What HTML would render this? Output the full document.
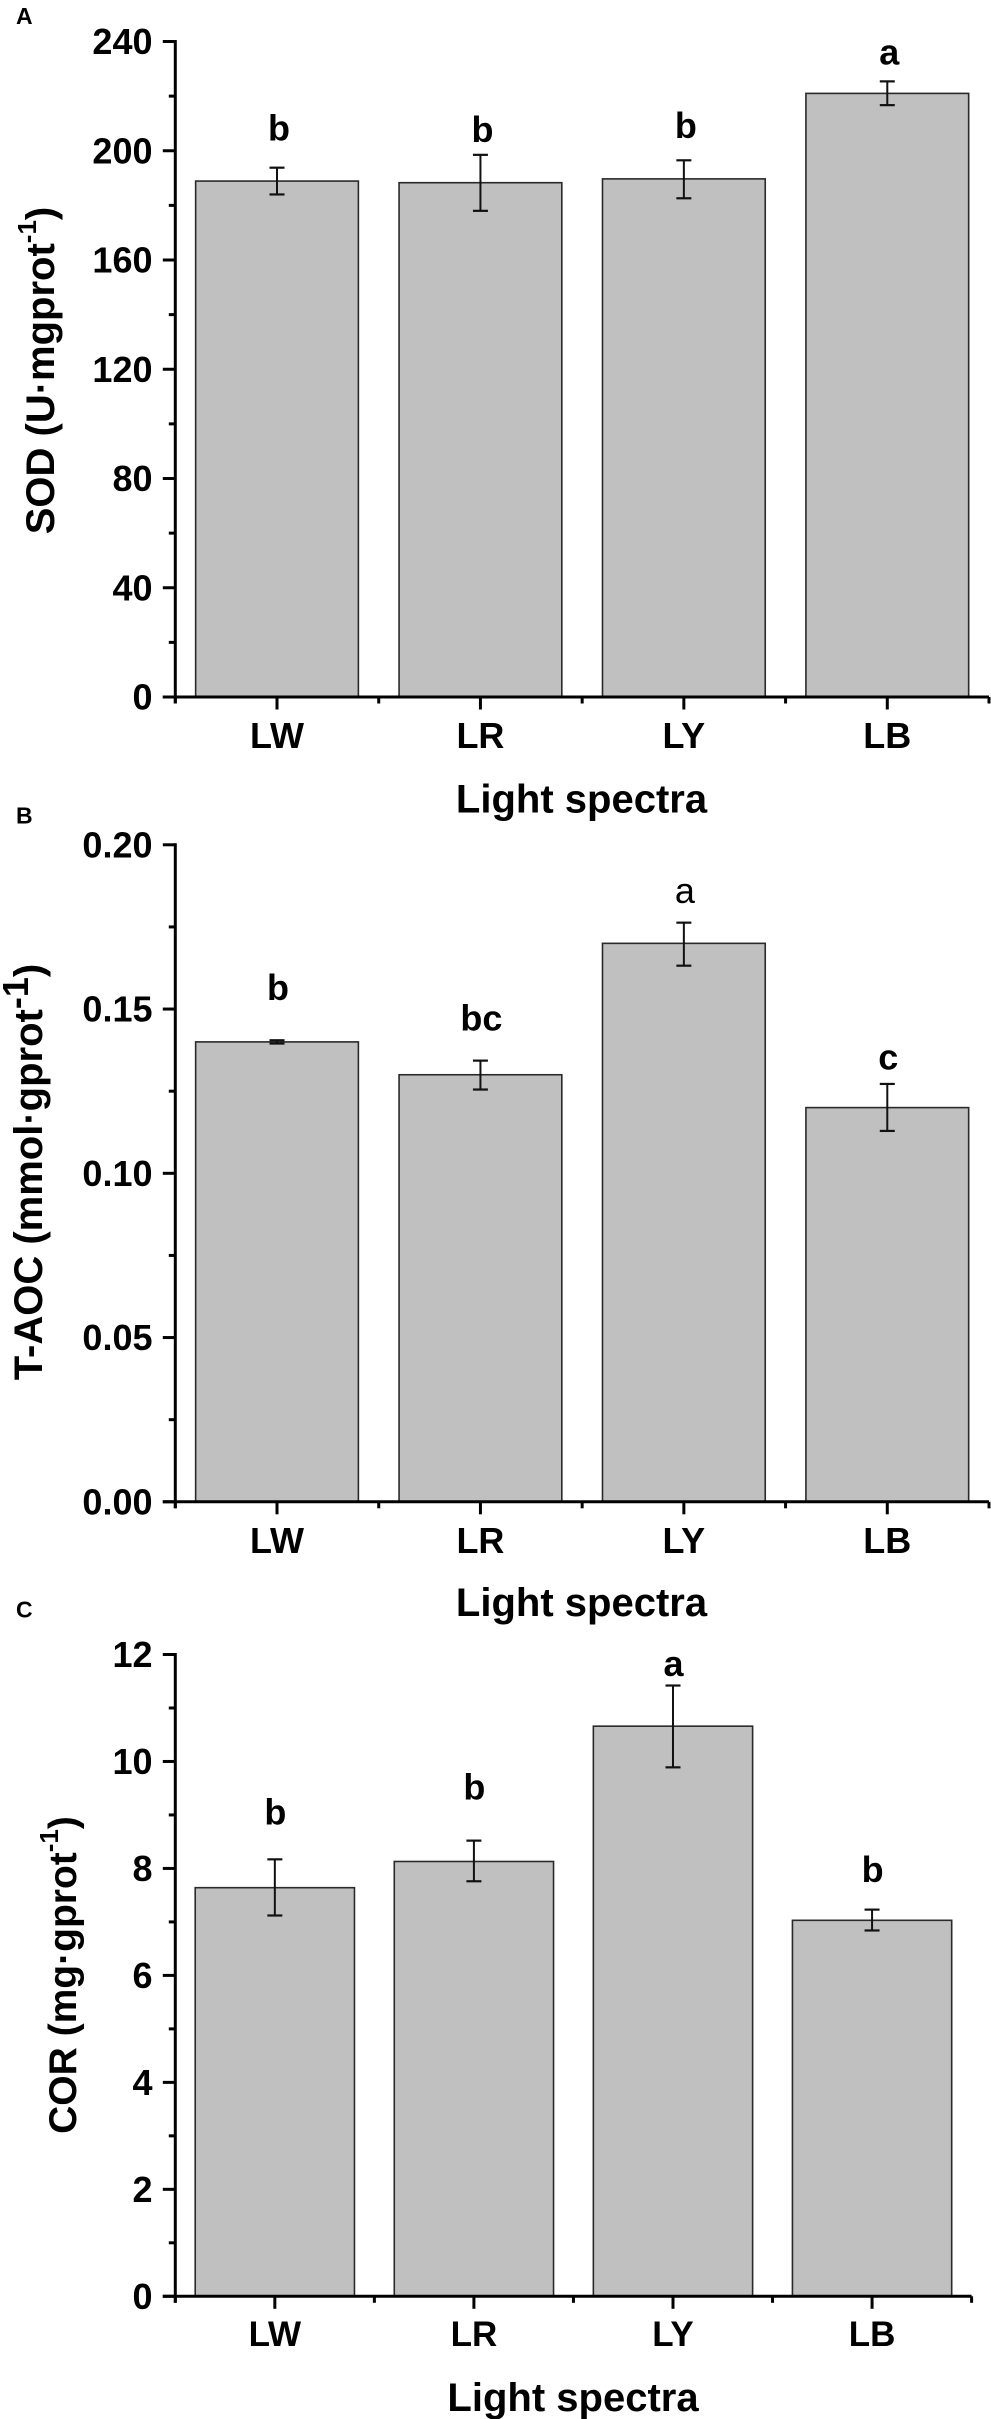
<!DOCTYPE html>
<html lang="en">
<head>
<meta charset="utf-8">
<title>SOD, T-AOC and COR by light spectra</title>
<style>
html,body{margin:0;padding:0;background:#fff;}
svg{display:block;}
text{font-family:"Liberation Sans",Arial,sans-serif;fill:#000;}
</style>
</head>
<body>
<svg id="figure" xmlns="http://www.w3.org/2000/svg" width="991" height="2419" viewBox="0 0 991 2419">
  <rect x="0" y="0" width="991" height="2419" fill="#ffffff"></rect>
  <text x="16" y="24" font-size="23" font-weight="700">A</text>
  <text x="16" y="823.5" font-size="23" font-weight="700">B</text>
  <text x="16" y="1617.5" font-size="23" font-weight="700">C</text>

  <text transform="translate(54,370.5) rotate(-90)" text-anchor="middle" font-size="40" font-weight="700">SOD (U·mgprot<tspan font-size="26" dy="-18">-1</tspan><tspan dy="18">)</tspan></text>
  <text x="581.5" y="812.5" text-anchor="middle" font-size="40" font-weight="700">Light spectra</text>

  <text transform="translate(42,1172) rotate(-90)" text-anchor="middle" font-size="40" font-weight="700">T-AOC (mmol·gprot<tspan font-size="36" dy="-14">-1</tspan><tspan dy="14">)</tspan></text>
  <text x="581.5" y="1616" text-anchor="middle" font-size="40" font-weight="700">Light spectra</text>

  <text transform="translate(76,1975) rotate(-90)" text-anchor="middle" font-size="39" font-weight="700">COR (mg·gprot<tspan font-size="26" dy="-18">-1</tspan><tspan dy="18">)</tspan></text>
  <text x="573" y="2411" text-anchor="middle" font-size="40" font-weight="700">Light spectra</text>
</svg>
<script>
var categories = ['LW', 'LR', 'LY', 'LB'];

var sodTickLabels = ['0', '40', '80', '120', '160', '200', '240'];
var sodValues = [188.9, 188.3, 189.7, 221];
var sodErrorHigh = [193.8, 198.5, 196.5, 225.4];
var sodErrorLow = [184, 178, 182.6, 216.7];
var sodLetters = ['b', 'b', 'b', 'a'];
var sodLetterLevels = [203.8, 203.2, 204.7, 231.6];
var sodLetterBold = [true, true, true, true];

var taocTickLabels = ['0.00', '0.05', '0.10', '0.15', '0.20'];
var taocValues = [0.14, 0.13, 0.17, 0.12];
var taocErrorHigh = [0.1405, 0.1343, 0.1763, 0.1272];
var taocErrorLow = [0.1395, 0.1255, 0.1632, 0.1129];
var taocLetters = ['b', 'bc', 'a', 'c'];
var taocLetterLevels = [0.1527, 0.1434, 0.1823, 0.1316];
var taocLetterBold = [true, true, false, true];

var corTickLabels = ['0', '2', '4', '6', '8', '10', '12'];
var corValues = [7.64, 8.13, 10.66, 7.03];
var corErrorHigh = [8.17, 8.52, 11.42, 7.23];
var corErrorLow = [7.12, 7.76, 9.89, 6.84];
var corLetters = ['b', 'b', 'a', 'b'];
var corLetterLevels = [8.82, 9.29, 11.6, 7.75];
var corLetterBold = [true, true, true, true];

var SVG_NS = 'http://www.w3.org/2000/svg';
var figure = document.getElementById('figure');

function addLine(group, x1, y1, x2, y2, width, color) {
  var line = document.createElementNS(SVG_NS, 'line');
  line.setAttribute('x1', x1);
  line.setAttribute('y1', y1);
  line.setAttribute('x2', x2);
  line.setAttribute('y2', y2);
  line.setAttribute('stroke', color);
  line.setAttribute('stroke-width', width);
  group.appendChild(line);
  return line;
}

function addText(group, content, x, y, size, bold) {
  var label = document.createElementNS(SVG_NS, 'text');
  label.setAttribute('x', x);
  label.setAttribute('y', y);
  label.setAttribute('text-anchor', 'middle');
  label.setAttribute('font-size', size);
  label.setAttribute('font-weight', bold ? '700' : '400');
  label.textContent = content;
  group.appendChild(label);
  return label;
}

function drawPanel(p) {
  var group = document.createElementNS(SVG_NS, 'g');
  
  
  figure.appendChild(group);

  var count = p.categories.length;
  var tickMax = parseFloat(p.tickLabels[p.tickLabels.length - 1]);
  function yScale(value) {
    return p.y0 - (value / tickMax) * (p.y0 - p.yTop);
  }
  function xScale(position) {
    return p.xLeft + (position / count) * (p.xRight - p.xLeft);
  }
  var barWidth = 0.8 * (p.xRight - p.xLeft) / count;

  p.values.forEach(function (value, i) {
    var bar = document.createElementNS(SVG_NS, 'rect');
    
    
    bar.setAttribute('x', xScale(i + 0.5) - barWidth / 2);
    bar.setAttribute('y', yScale(value));
    bar.setAttribute('width', barWidth);
    bar.setAttribute('height', p.y0 - yScale(value));
    bar.setAttribute('fill', '#c0c0c0');
    bar.setAttribute('stroke', '#2a2a2a');
    bar.setAttribute('stroke-width', '1.6');
    group.appendChild(bar);
  });

  p.values.forEach(function (value, i) {
    var cx = xScale(i + 0.5);
    var errorGroup = document.createElementNS(SVG_NS, 'g');
    
    
    group.appendChild(errorGroup);
    addLine(errorGroup, cx, yScale(p.errorHigh[i]), cx, yScale(p.errorLow[i]), 2, '#111');
    addLine(errorGroup, cx - 7.5, yScale(p.errorHigh[i]), cx + 7.5, yScale(p.errorHigh[i]), 2.2, '#111');
    addLine(errorGroup, cx - 7.5, yScale(p.errorLow[i]), cx + 7.5, yScale(p.errorLow[i]), 2.2, '#111');

    var letter = addText(group, p.letters[i], cx + p.letterShift, yScale(p.letterLevels[i]), 36, p.letterBold[i]);
    
    

    var catLabel = addText(group, p.categories[i], cx, p.y0 + p.catOffset, p.catSize, true);
    
    

    var majorTick = addLine(group, cx, p.y0, cx, p.y0 + 12.5, 3, '#000');
    
    
  });

  for (var edge = 0; edge <= count; edge++) {
    var minorX = addLine(group, xScale(edge), p.y0, xScale(edge), p.y0 + 6.5, 3, '#000');
    
    
  }

  p.tickLabels.forEach(function (label, i) {
    var tickY = yScale(parseFloat(label));
    var major = addLine(group, p.xLeft - 12.5, tickY, p.xLeft, tickY, 3, '#000');
    
    

    var tickText = addText(group, label, 152.5, tickY + 12.5, 36, true);
    tickText.setAttribute('text-anchor', 'end');
    
    

    if (i < p.tickLabels.length - 1) {
      var midY = (tickY + yScale(parseFloat(p.tickLabels[i + 1]))) / 2;
      var minor = addLine(group, p.xLeft - 6.5, midY, p.xLeft, midY, 3, '#000');
      
      
    }
  });

  var yAxis = addLine(group, p.xLeft, p.yTop - 1.5, p.xLeft, p.y0 + 6.5, 3, '#000');
  
  

  var xAxis = addLine(group, p.xLeft - 12.5, p.y0, p.xRight, p.y0, 3, '#000');
  
  
}

drawPanel({
  name: 'sod', categories: categories, tickLabels: sodTickLabels, values: sodValues,
  errorHigh: sodErrorHigh, errorLow: sodErrorLow, letters: sodLetters,
  letterLevels: sodLetterLevels, letterBold: sodLetterBold, letterShift: 2,
  xLeft: 175.3, xRight: 989, y0: 697, yTop: 41.5, catOffset: 51, catSize: 36
});
drawPanel({
  name: 'taoc', categories: categories, tickLabels: taocTickLabels, values: taocValues,
  errorHigh: taocErrorHigh, errorLow: taocErrorLow, letters: taocLetters,
  letterLevels: taocLetterLevels, letterBold: taocLetterBold, letterShift: 1,
  xLeft: 175.3, xRight: 989, y0: 1501.8, yTop: 844.8, catOffset: 51, catSize: 36
});
drawPanel({
  name: 'cor', categories: categories, tickLabels: corTickLabels, values: corValues,
  errorHigh: corErrorHigh, errorLow: corErrorLow, letters: corLetters,
  letterLevels: corLetterLevels, letterBold: corLetterBold, letterShift: 0.5,
  xLeft: 175.3, xRight: 971.6, y0: 2296.3, yTop: 1654.5, catOffset: 49.5, catSize: 35
});
</script>
</body>
</html>
